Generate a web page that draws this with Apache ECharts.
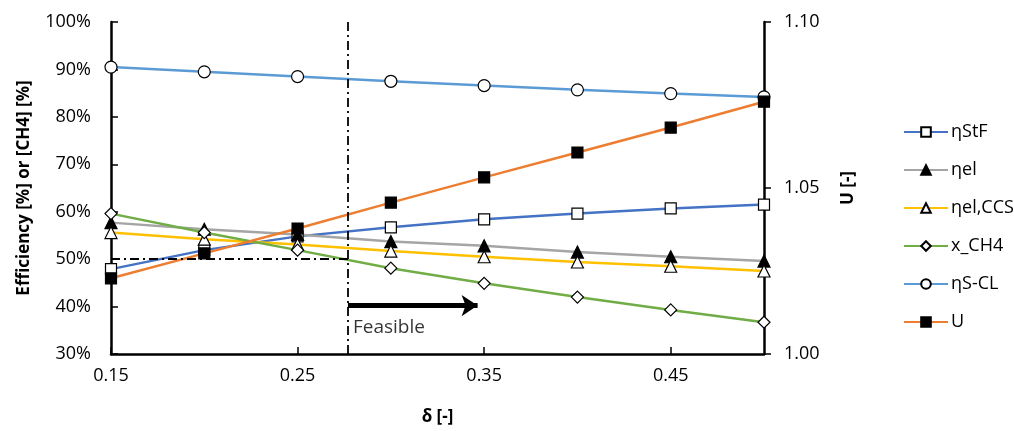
<!DOCTYPE html>
<html>
<head>
    <meta charset="utf-8">
    <title>Efficiency and U vs delta</title>
    <script src="https://cdn.jsdelivr.net/npm/echarts@6/dist/echarts.min.js"></script>
    <style>
        html, body { margin: 0; padding: 0; background: #fff; }
    </style>
</head>
<body>
    <div id="main" style="width: 1014px;height:431px;"></div>
    <script type="text/javascript">
        var chart = echarts.init(document.getElementById('main'));

        // x values (δ)
        var delta = [0.15, 0.20, 0.25, 0.30, 0.35, 0.40, 0.45, 0.50];
        var xTicks = [0.15, 0.25, 0.35, 0.45];

        // left axis, in %
        var etaStF = [47.9, 51.9, 54.8, 56.7, 58.4, 59.6, 60.7, 61.5];
        var etaEl = [57.7, 56.3, 55.2, 53.7, 52.8, 51.5, 50.5, 49.6];
        var etaElCCS = [55.6, 54.2, 53.1, 51.7, 50.5, 49.4, 48.5, 47.5];
        var xCH4 = [59.6, 55.6, 51.9, 48.1, 44.9, 42.0, 39.3, 36.7];
        var etaSCL = [90.5, 89.5, 88.5, 87.5, 86.6, 85.7, 84.9, 84.2];
        // right axis
        var U = [1.0228, 1.0303, 1.0378, 1.0456, 1.0532, 1.0607, 1.0682, 1.0760];

        // annotations
        var feasibleDelta = 0.277;
        var thresholdPct = 50;
        var arrowY = 40.2;
        var arrowEnd = 0.3465;
        var labelY = 35.5;

        function pairs(ys) {
            return delta.map(function (x, i) { return [x, ys[i]]; });
        }

        var font = 'Open Sans';
        var ink = '#000';

        function mkSeries(name, data, color, symbol, fill, size, axisIdx) {
            return {
                name: name,
                type: 'line',
                yAxisIndex: axisIdx || 0,
                data: pairs(data),
                symbol: symbol,
                symbolSize: size,
                showAllSymbol: true,
                lineStyle: { color: color, width: 2.5 },
                itemStyle: { color: fill, borderColor: '#000', borderWidth: 1.2 },
                color: color,
                emphasis: { disabled: true },
                z: 3
            };
        }

        var legendNames = ['ηStF', 'ηel', 'ηel,CCS', 'x_CH4', 'ηS-CL', 'U'];

        var option = {
            animation: false,
            textStyle: { fontFamily: font },
            grid: { left: 111, right: 250, top: 22, bottom: 76 },
            legend: {
                data: legendNames,
                orient: 'vertical',
                left: 903,
                top: 123,
                padding: 0,
                itemWidth: 44,
                itemHeight: 12,
                itemGap: 20,
                textStyle: { fontSize: 18, color: ink, fontFamily: font, padding: [0, 0, 0, -2] }
            },
            xAxis: {
                type: 'value',
                min: 0.15,
                max: 0.5,
                name: 'δ [-]',
                nameLocation: 'middle',
                nameGap: 55,
                nameTextStyle: { fontSize: 17, fontWeight: 'bold', color: ink },
                axisLine: { lineStyle: { color: ink, width: 2.5 } },
                axisTick: { inside: true, length: 7, customValues: xTicks, lineStyle: { color: ink, width: 1.5 } },
                axisLabel: {
                    customValues: xTicks,
                    fontSize: 18, color: ink, margin: 13,
                    formatter: function (v) { return v.toFixed(2); }
                },
                splitLine: { show: false }
            },
            yAxis: [
                {
                    type: 'value',
                    min: 30,
                    max: 100,
                    interval: 10,
                    name: 'Efficiency [%] or [CH4] [%]',
                    nameLocation: 'middle',
                    nameRotate: 90,
                    nameGap: 78,
                    nameTextStyle: { fontSize: 17, fontWeight: 'bold', color: ink },
                    axisLine: { show: true, lineStyle: { color: ink, width: 2.5 } },
                    axisTick: { show: true, inside: true, length: 7, lineStyle: { color: ink, width: 1.5 } },
                    axisLabel: { fontSize: 18, color: ink, margin: 20, formatter: '{value}%' },
                    splitLine: { show: false }
                },
                {
                    type: 'value',
                    min: 1.0,
                    max: 1.1,
                    interval: 0.05,
                    position: 'right',
                    name: 'U [-]',
                    nameLocation: 'middle',
                    nameRotate: 90,
                    nameGap: 76,
                    nameTextStyle: { fontSize: 17, fontWeight: 'bold', color: ink },
                    axisLine: { show: true, lineStyle: { color: ink, width: 2.5 } },
                    axisTick: { show: true, inside: false, length: 7, lineStyle: { color: ink, width: 1.5 } },
                    axisLabel: { fontSize: 18, color: ink, margin: 20, formatter: function (v) { return v.toFixed(2); } },
                    splitLine: { show: false }
                }
            ],
            series: [
                {
                    name: 'guides',
                    type: 'line',
                    data: [],
                    silent: true,
                    markLine: {
                        silent: true,
                        symbol: 'none',
                        label: { show: false },
                        emphasis: { disabled: true },
                        data: [
                            [{ coord: [feasibleDelta, 30] }, { coord: [feasibleDelta, 100] }],
                            [{ coord: [0.15, thresholdPct] }, { coord: [feasibleDelta, thresholdPct] }]
                        ],
                        lineStyle: { color: ink, width: 1.8, type: [9, 4, 2, 4] }
                    },
                    z: 1
                },
                {
                    name: 'arrow',
                    type: 'line',
                    data: [],
                    silent: true,
                    markLine: {
                        silent: true,
                        symbol: ['none', 'arrow'],
                        symbolSize: 16,
                        label: { show: false },
                        emphasis: { disabled: true },
                        data: [
                            [{ coord: [feasibleDelta, arrowY] }, { coord: [arrowEnd, arrowY] }]
                        ],
                        itemStyle: { color: ink },
                        lineStyle: { color: ink, width: 5, type: 'solid' }
                    },
                    z: 1
                },
                {
                    name: 'feasibleLabel',
                    type: 'scatter',
                    data: [[feasibleDelta, labelY]],
                    symbolSize: 0,
                    silent: true,
                    label: {
                        show: true,
                        position: 'right',
                        distance: 5,
                        formatter: 'Feasible',
                        fontSize: 19,
                        color: ink
                    }
                },
                mkSeries('ηStF', etaStF, '#4472C4', 'rect', '#fff', 11),
                mkSeries('ηel', etaEl, '#A5A5A5', 'triangle', '#000', 12),
                mkSeries('ηel,CCS', etaElCCS, '#FFC000', 'triangle', '#fff', 12),
                mkSeries('x_CH4', xCH4, '#70AD47', 'diamond', '#fff', 12),
                mkSeries('ηS-CL', etaSCL, '#5B9BD5', 'circle', '#fff', 12),
                mkSeries('U', U, '#ED7D31', 'rect', '#000', 11, 1)
            ]
        };

        chart.setOption(option);
    </script>
</body>
</html>
